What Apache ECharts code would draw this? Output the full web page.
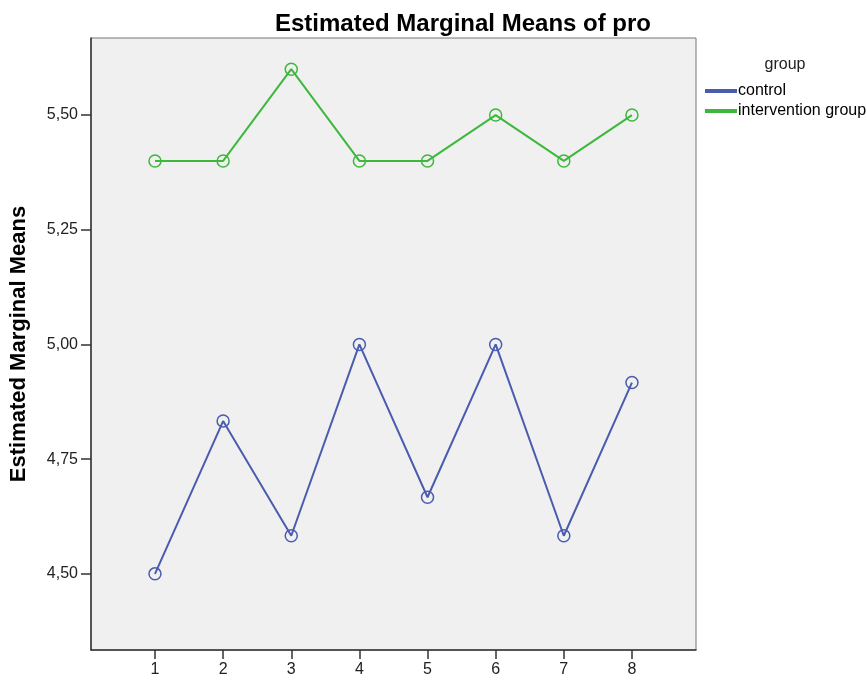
<!DOCTYPE html>
<html>
<head>
<meta charset="utf-8">
<script src="https://cdn.jsdelivr.net/npm/echarts@6/dist/echarts.min.js"></script>
<style>html,body{margin:0;padding:0;background:#fff}#c{width:867px;height:686px}</style>
</head>
<body>
<div id="c"></div>
<script>
var categories = [1, 2, 3, 4, 5, 6, 7, 8];
var controlValues = [4.5, 4.833, 4.583, 5.0, 4.667, 5.0, 4.583, 4.917];
var interventionValues = [5.4, 5.4, 5.6, 5.4, 5.4, 5.5, 5.4, 5.5];
var yTicks = [4.5, 4.75, 5.0, 5.25, 5.5];

function pairs(vals) { return categories.map(function (c, i) { return [c, vals[i]]; }); }

var chart = echarts.init(document.getElementById('c'));
var font = 'Liberation Sans, Arial, sans-serif';
chart.setOption({
  backgroundColor: '#ffffff',
  animation: false,
  title: [
    { text: 'Estimated Marginal Means of pro', left: 458, top: 7, textAlign: 'center',
      textStyle: { fontFamily: font, fontSize: 24, fontWeight: 'bold', color: '#000' } },
    { text: 'group', left: 780, top: 52, textAlign: 'center',
      textStyle: { fontFamily: font, fontSize: 16, fontWeight: 'normal', color: '#222' } }
  ],
  legend: {
    orient: 'vertical', left: 700, top: 78, itemGap: 4,
    icon: 'rect', itemWidth: 30, itemHeight: 2,
    textStyle: { fontFamily: font, fontSize: 16, color: '#000', padding: [0, 0, 0, -3] },
    data: ['control', 'intervention group']
  },
  grid: { left: 91, top: 38, width: 605, height: 612, show: true,
    backgroundColor: '#f0f0f0', borderColor: '#777', borderWidth: 1 },
  xAxis: {
    type: 'value', min: 0.061, max: 8.94,
    axisLine: { show: true, lineStyle: { color: '#333', width: 1.5 } },
    axisTick: { show: true, length: 9, customValues: categories, lineStyle: { color: '#333', width: 1.5 } },
    axisLabel: { customValues: categories, fontFamily: font, fontSize: 16, color: '#222', margin: 12 },
    splitLine: { show: false }
  },
  yAxis: {
    type: 'value', min: 4.334, max: 5.668,
    name: 'Estimated Marginal Means', nameLocation: 'middle', nameGap: 61,
    nameTextStyle: { fontFamily: font, fontSize: 22, fontWeight: 'bold', color: '#000' },
    axisLine: { show: true, lineStyle: { color: '#333', width: 1.5 } },
    axisTick: { show: true, length: 10, customValues: yTicks, lineStyle: { color: '#333', width: 1.5 } },
    axisLabel: { customValues: yTicks, fontFamily: font, fontSize: 16, color: '#222', margin: 13,
      formatter: function (v) { return v.toFixed(2).replace('.', ','); } },
    splitLine: { show: false }
  },
  series: [
    { name: 'control', type: 'line', data: pairs(controlValues),
      symbol: 'circle', symbolSize: 12,
      lineStyle: { color: '#4a5cae', width: 2 },
      itemStyle: { color: 'rgba(0,0,0,0)', borderColor: '#4a5cae', borderWidth: 1.5 } },
    { name: 'intervention group', type: 'line', data: pairs(interventionValues),
      symbol: 'circle', symbolSize: 12,
      lineStyle: { color: '#3db83d', width: 2 },
      itemStyle: { color: 'rgba(0,0,0,0)', borderColor: '#3db83d', borderWidth: 1.5 } }
  ]
});
</script>
</body>
</html>
